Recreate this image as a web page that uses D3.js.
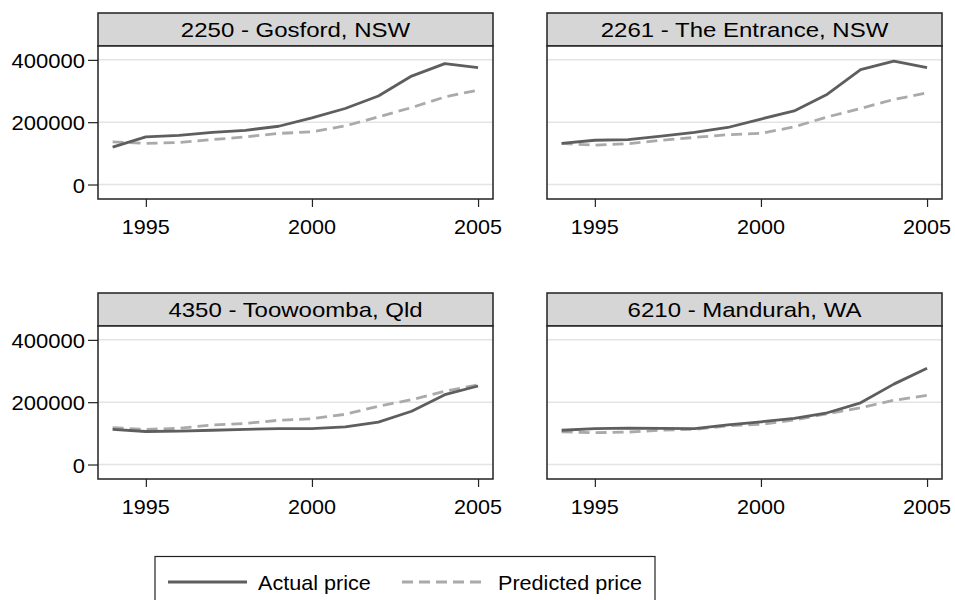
<!DOCTYPE html>
<html>
<head>
<meta charset="utf-8">
<script src="https://cdn.jsdelivr.net/npm/d3@7"></script>
<style>
  html, body { margin: 0; padding: 0; background: #fff; }
  svg { display: block; }
  text { font-family: "Liberation Sans", Arial, sans-serif; fill: #000; }
</style>
</head>
<body>
<svg id="chart" width="955" height="600"></svg>
<script>
// ---------------- Data ----------------
const years = [1994, 1995, 1996, 1997, 1998, 1999, 2000, 2001, 2002, 2003, 2004, 2005];
const panelTitles = ["2250 - Gosford, NSW", "2261 - The Entrance, NSW", "4350 - Toowoomba, Qld", "6210 - Mandurah, WA"];

const actualGosford    = [120000, 153000, 158000, 167000, 174000, 187000, 214000, 244000, 284000, 348000, 388000, 375000];
const predictedGosford = [137000, 132000, 135000, 144000, 153000, 164000, 169000, 188000, 217000, 247000, 281000, 303000];

const actualEntrance    = [132000, 142000, 144000, 155000, 167000, 183000, 210000, 236000, 290000, 369000, 396000, 375000];
const predictedEntrance = [132000, 126000, 131000, 142000, 151000, 160000, 164000, 185000, 217000, 244000, 273000, 294000];

const actualToowoomba    = [113000, 106000, 107000, 110000, 113000, 115000, 115000, 121000, 136000, 171000, 224000, 252000];
const predictedToowoomba = [118000, 113000, 116000, 127000, 132000, 142000, 147000, 161000, 187000, 208000, 235000, 256000];

const actualMandurah    = [110000, 115000, 117000, 116000, 115000, 127000, 137000, 148000, 166000, 198000, 258000, 309000];
const predictedMandurah = [105000, 102000, 104000, 110000, 113000, 124000, 129000, 143000, 163000, 182000, 206000, 222000];

const yTicks = [0, 200000, 400000];
const xTicks = [1995, 2000, 2005];
const legendLabels = ["Actual price", "Predicted price"];

const actualSeries = [actualGosford, actualEntrance, actualToowoomba, actualMandurah];
const predictedSeries = [predictedGosford, predictedEntrance, predictedToowoomba, predictedMandurah];

// ---------------- Layout ----------------
const colLeft = [98, 547];
const rowTop = [13, 293];
const panelW = 395;
const headerH = 33;
const plotH = 153;

const C_ACTUAL = "#5e5e5e";
const C_PRED = "#aaaaaa";
const C_BORDER = "#222";
const C_GRID = "#e4e4e4";
const C_HEADER = "#d6d6d6";

const svg = d3.select("#chart");

function addText(g, x, y, str, anchor, size, sx) {
  return g.append("text")
    .attr("transform", `translate(${x},${y}) scale(${sx},1)`)
    .attr("text-anchor", anchor)
    .style("font-size", size + "px")
    .text(str);
}

panelTitles.forEach((title, i) => {
  const col = i % 2, row = Math.floor(i / 2);
  const x0 = colLeft[col], top = rowTop[row];
  const pTop = top + headerH, pBot = pTop + plotH;
  const g = svg.append("g");

  const x = d3.scaleLinear().domain([1993.56, 2005.45]).range([x0, x0 + panelW]);
  const y = d3.scaleLinear().domain([-46500, 444500]).range([pBot, pTop]);

  // header
  g.append("rect").attr("x", x0).attr("y", top).attr("width", panelW).attr("height", headerH)
    .attr("fill", C_HEADER).attr("stroke", C_BORDER).attr("stroke-width", 1.5);
  addText(g, x0 + panelW / 2, top + 24, title, "middle", 20, 1.2);

  // plot background
  g.append("rect").attr("x", x0).attr("y", pTop).attr("width", panelW).attr("height", plotH)
    .attr("fill", "#fff");

  // grid
  g.selectAll(".grid").data(yTicks).enter().append("line")
    .attr("x1", x0).attr("x2", x0 + panelW)
    .attr("y1", d => y(d)).attr("y2", d => y(d))
    .attr("stroke", C_GRID).attr("stroke-width", 1.5);

  // lines
  const line = d3.line().x((d, k) => x(years[k])).y(d => y(d));
  g.append("path").datum(predictedSeries[i]).attr("d", line)
    .attr("fill", "none").attr("stroke", C_PRED).attr("stroke-width", 2.8)
    .attr("stroke-dasharray", "11,6");
  g.append("path").datum(actualSeries[i]).attr("d", line)
    .attr("fill", "none").attr("stroke", C_ACTUAL).attr("stroke-width", 2.8)
    .attr("stroke-linejoin", "round");

  // border
  g.append("rect").attr("x", x0).attr("y", pTop).attr("width", panelW).attr("height", plotH)
    .attr("fill", "none").attr("stroke", C_BORDER).attr("stroke-width", 1.5);

  // x axis
  const xAxis = d3.axisBottom(x).tickValues(xTicks).tickSize(8).tickFormat("");
  const xa = g.append("g").attr("transform", `translate(0,${pBot})`).call(xAxis);
  xa.select(".domain").remove();
  xa.selectAll(".tick line").attr("stroke", C_BORDER).attr("stroke-width", 1.2);
  xTicks.forEach(t => addText(g, x(t), pBot + 35, String(t), "middle", 20, 1.08));

  // y axis (left column only)
  if (col === 0) {
    const yAxis = d3.axisLeft(y).tickValues(yTicks).tickSize(10).tickFormat("");
    const ya = g.append("g").attr("transform", `translate(${x0},0)`).call(yAxis);
    ya.select(".domain").remove();
    ya.selectAll(".tick line").attr("stroke", C_BORDER).attr("stroke-width", 1.2);
    yTicks.forEach(t => addText(g, x0 - 13, y(t) + 8, String(t), "end", 20, 1.1));
  }
});

// ---------------- Legend ----------------
const lg = svg.append("g");
lg.append("rect").attr("x", 155).attr("y", 556.5).attr("width", 500).attr("height", 70)
  .attr("fill", "#fff").attr("stroke", C_BORDER).attr("stroke-width", 1.2);
const legendStyles = [
  { color: C_ACTUAL, dash: null, x1: 168, x2: 247, tx: 258 },
  { color: C_PRED, dash: "11,6", x1: 402, x2: 486, tx: 498 }
];
legendLabels.forEach((lab, k) => {
  const s = legendStyles[k];
  const ln = lg.append("line").attr("x1", s.x1).attr("x2", s.x2).attr("y1", 582).attr("y2", 582)
    .attr("stroke", s.color).attr("stroke-width", 2.8);
  if (s.dash) ln.attr("stroke-dasharray", s.dash);
  addText(lg, s.tx, 590, lab, "start", 20, 1.08);
});
</script>
</body>
</html>
